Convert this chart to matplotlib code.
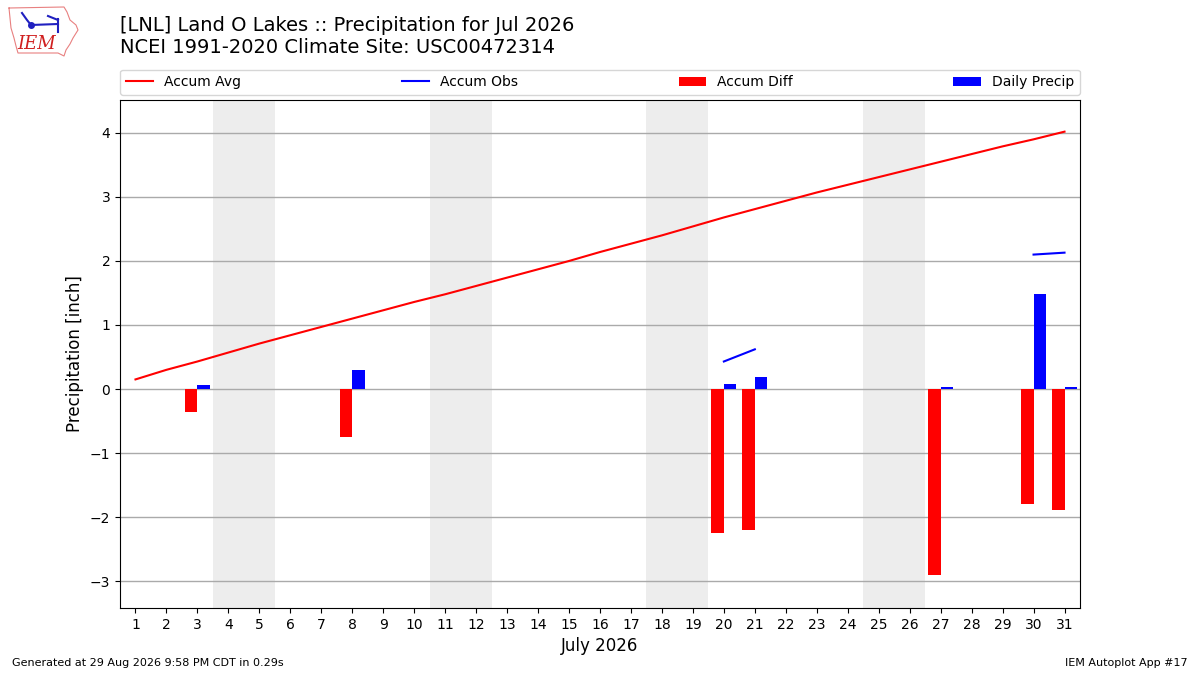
import numpy as np
import matplotlib
matplotlib.use("Agg")
import matplotlib.pyplot as plt
from matplotlib.lines import Line2D

# data
days = list(range(1, 32))
accum_avg = [0.15, 0.30, 0.43, 0.57, 0.71, 0.84, 0.97, 1.10, 1.23, 1.36,
             1.48, 1.61, 1.74, 1.87, 2.00, 2.14, 2.27, 2.40, 2.54, 2.68,
             2.81, 2.94, 3.07, 3.19, 3.31, 3.43, 3.55, 3.67, 3.79, 3.90, 4.02]
obs_days = [3, 8, 20, 21, 27, 30, 31]
daily_precip = [0.06, 0.30, 0.08, 0.19, 0.03, 1.48, 0.03]
accum_obs = [0.06, 0.36, 0.43, 0.62, 0.65, 2.10, 2.13]
accum_diff = [-0.36, -0.75, -2.25, -2.20, -2.91, -1.80, -1.89]
weekends = [4, 11, 18, 25]

# obs line only drawn between consecutive observed days
obs_line = np.full(len(days), np.nan)
for d, v in zip(obs_days, accum_obs):
    obs_line[d - 1] = v

fig = plt.figure(figsize=(12, 6.75), dpi=100)
ax = fig.add_axes([0.1, 0.0993, 0.8, 0.7527])

for w in weekends:
    ax.axvspan(w - 0.5, w + 1.5, color="#ededed", zorder=0, lw=0)

ax.plot(days, accum_avg, color="r", lw=1.5, label="Accum Avg", zorder=3)
ax.plot(days, obs_line, color="b", lw=1.5, label="Accum Obs", zorder=3)
ax.bar(obs_days, accum_diff, width=-0.4, align="edge", color="r",
       label="Accum Diff", zorder=2)
ax.bar(obs_days, daily_precip, width=0.4, align="edge", color="b",
       label="Daily Precip", zorder=2)

ax.set_xlim(0.5, 31.5)
ax.set_ylim(-3.42, 4.516)
ax.set_xticks(days)
ax.set_yticks([-3, -2, -1, 0, 1, 2, 3, 4])
ax.set_yticklabels(["\u22123", "\u22122", "\u22121", "0", "1", "2", "3", "4"])
ax.tick_params(labelsize=10)
ax.grid(axis="y", color="#aaaaaa", lw=1, zorder=1)
ax.set_axisbelow(True)
ax.set_xlabel("July 2026", fontsize=12)
ax.set_ylabel("Precipitation [inch]", fontsize=12)

ax.legend(loc="lower left", bbox_to_anchor=(0, 1.01, 1, 0.05), ncol=4,
          mode="expand", fontsize=10, borderaxespad=0)

fig.text(0.1, 0.962, "[LNL] Land O Lakes :: Precipitation for Jul 2026",
         fontsize=14, va="center")
fig.text(0.1, 0.929, "NCEI 1991-2020 Climate Site: USC00472314",
         fontsize=14, va="center")

# rough stand-in for the IEM logo (pixel coords -> figure fraction)
def px(pts):
    return [p[0] / 1200 for p in pts], [1 - p[1] / 675 for p in pts]

outline = [(9, 8), (64, 7), (67, 12), (70, 20), (76, 25), (78, 30), (73, 38),
           (70, 44), (66, 50), (64, 56), (58, 53), (18, 53), (16, 46),
           (14, 38), (11, 28), (10, 18), (9, 8)]
xs, ys = px(outline)
fig.add_artist(Line2D(xs, ys, color="#e88080", lw=0.8))
for seg in [[(31, 25), (58, 24)], [(48, 16), (58, 20)], [(58, 19), (58, 32)],
            [(22, 13), (27, 20), (31, 25)]]:
    xs, ys = px(seg)
    fig.add_artist(Line2D(xs, ys, color="#2020c0", lw=1.5))
xs, ys = px([(31, 25)])
fig.add_artist(Line2D(xs, ys, color="#2020c0", marker="o", ms=4, lw=0))
fig.text(37 / 1200, 1 - 44 / 675, "IEM", fontsize=13, color="#d02020",
         family="DejaVu Serif", style="italic", ha="center", va="center")

fig.text(0.01, 0.013, "Generated at 29 Aug 2026 9:58 PM CDT in 0.29s",
         fontsize=8)
fig.text(0.99, 0.013, "IEM Autoplot App #17", fontsize=8, ha="right")

fig.savefig("out.png", dpi=100)
